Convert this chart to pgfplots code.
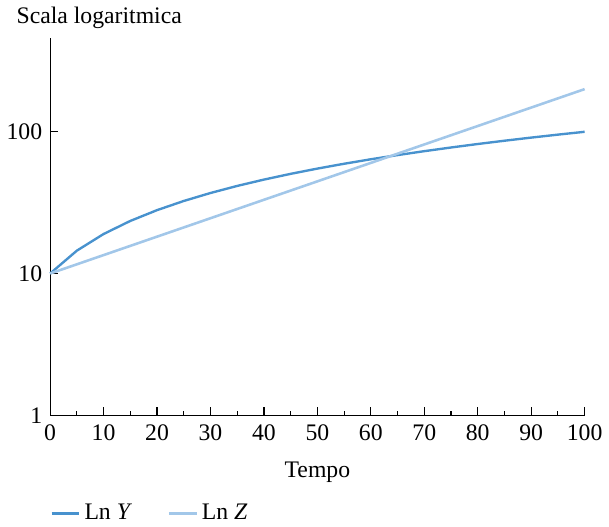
\documentclass[border=0pt]{standalone}
\usepackage{pgfplots}
\pgfplotsset{compat=1.18}
\usepackage{fontspec}
\setmainfont{Liberation Serif}
\definecolor{lnY}{RGB}{72,146,206}
\definecolor{lnZ}{RGB}{162,199,233}

\begin{document}
\begin{tikzpicture}[font=\fontsize{12}{14}\selectfont]
\begin{axis}[
  scale only axis, width=270.5pt, height=191pt,
  ymode=log, ymin=1, ymax=460,
  xmin=0, xmax=100,
  axis lines*=left,
  axis line style={line width=0.6pt},
  xtick={0,10,...,100}, minor x tick num=1,
  ytick={1,10,100}, yticklabels={1,10,100},
  yminorticks=false,
  tick align=inside,
  major tick length=4pt, minor tick length=2pt,
  tick style={black, line width=0.6pt},
  /pgf/number format/assume math mode=true,
  xticklabel style={yshift=-1.5pt},
  yticklabel style={xshift=-0.5pt},
  xlabel={Tempo},
  xlabel style={yshift=-3.5pt},
  legend columns=2,
  legend style={at={(0,-0.26)}, anchor=west, draw=none, inner sep=0pt,
    /tikz/every even column/.append style={column sep=16pt}},
  legend image code/.code={\draw[#1] (0pt,0pt) -- (14pt,0pt);},
  clip=false,
]
\addplot[lnY, line width=1.2pt] coordinates {
  (0,10) (5,14.5) (10,19) (15,23.5) (20,28) (25,32.5) (30,37) (35,41.5)
  (40,46) (45,50.5) (50,55) (55,59.5) (60,64) (65,68.5) (70,73) (75,77.5)
  (80,82) (85,86.5) (90,91) (95,95.5) (100,100)};
\addlegendentry{Ln \textit{Y}}
\addplot[lnZ, line width=1.3pt] coordinates {
  (0,10) (50,44.7) (100,200)};
\addlegendentry{Ln \textit{Z}}
\node[anchor=base west, xshift=-20.5pt, yshift=7.5pt] at (rel axis cs:0,1) {Scala logaritmica};
\end{axis}
\end{tikzpicture}
\end{document}
